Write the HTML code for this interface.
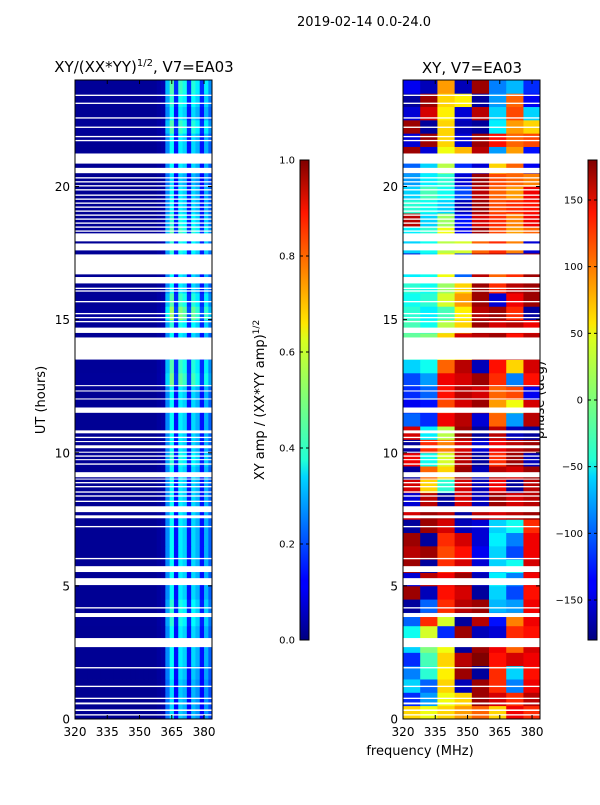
<!DOCTYPE html>
<html><head><meta charset="utf-8"><style>
body{margin:0;background:#fff;width:600px;height:800px;overflow:hidden;font-family:"Liberation Sans","DejaVu Sans",sans-serif}
svg text{font-family:"DejaVu Sans","Liberation Sans",sans-serif;fill:#000}
</style></head><body>
<svg id="fig" width="600" height="800" xmlns="http://www.w3.org/2000/svg">
<defs><linearGradient id="jet" x1="0" y1="1" x2="0" y2="0">
<stop offset="0" stop-color="#000080"/><stop offset="0.11" stop-color="#0000ff"/><stop offset="0.125" stop-color="#0000ff"/>
<stop offset="0.34" stop-color="#00d5ff"/><stop offset="0.375" stop-color="#22ffd5"/><stop offset="0.5" stop-color="#7dff7a"/>
<stop offset="0.625" stop-color="#d8ff1f"/><stop offset="0.66" stop-color="#ffe600"/><stop offset="0.89" stop-color="#ff1600"/><stop offset="1" stop-color="#800000"/>
</linearGradient></defs>
<text x="364" y="26" font-size="13" text-anchor="middle">2019-02-14 0.0-24.0</text>
<text x="144" y="72" font-size="15" text-anchor="middle">XY/(XX*YY)<tspan font-size="10" dy="-6">1/2</tspan><tspan dy="6">, V7=EA03</tspan></text>
<text x="472" y="73" font-size="15" text-anchor="middle">XY, V7=EA03</text>
<text transform="translate(45,400) rotate(-90)" font-size="13" text-anchor="middle">UT (hours)</text>
<text x="420" y="755" font-size="13" text-anchor="middle">frequency (MHz)</text>
<text transform="translate(264,400) rotate(-90)" font-size="13" text-anchor="middle">XY amp / (XX*YY amp)<tspan font-size="9" dy="-5">1/2</tspan></text>
<text transform="translate(544,400) rotate(-90)" font-size="13" text-anchor="middle">phase (deg)</text>
<g id="g1"></g><g id="g2"></g>
</svg>
<script>
const freqBinsAmp=[320,322,324,326,328,330,332,334,336,338,340,342,344,346,348,350,352,354,356,358,360,362,364,366,368,370,372,374,376,378,380,382];
const ampProfile=[0.02,0.02,0.02,0.02,0.02,0.02,0.02,0.02,0.02,0.02,0.02,0.02,0.02,0.02,0.02,0.02,0.02,0.02,0.02,0.03,0.04,0.26,0.38,0.14,0.36,0.33,0.14,0.34,0.3,0.14,0.3,0.22];
const ampRowScale=[0.9,0.9,0.9,0.95,1,1,1,1.1,1.1,1,1,1,1,1,1,1,1,1,1,1.1,1,1,1,1,1,1.3,1.2,1,1,1.1,1.4,1.2,1,1,1,1.1,1.2,1.1,1,1,0.9,1,1,1,1.2,1,1.1,1.2];
const freqBinsPhase=[320,328,336,344,352,360,368,376];
const phaseRows=[
[60,40,60,80,100,60,140,120],[-120,-80,40,60,170,150,120,160],[-60,-100,60,-160,170,120,-90,140],[-90,-30,50,170,-170,120,-60,130],
[-120,-20,60,160,180,130,150,140],[-60,0,40,-170,170,140,100,150],[-40,30,-120,170,-160,-150,120,130],[-100,120,30,-170,160,-130,90,140],
[-170,-100,120,160,170,-70,-80,140],[170,-160,130,150,-170,-60,-110,130],[-150,160,140,170,-160,-50,-90,140],[170,-170,120,150,-150,-60,-40,150],
[160,170,110,130,-140,-60,-110,140],[170,-170,120,150,-150,-50,-90,140],[-170,170,150,-160,-150,-60,-40,120],[150,170,160,-170,160,150,160,170],
[-150,160,-170,150,-160,170,150,160],[150,60,-30,150,-160,140,-170,160],[-170,100,60,170,-160,160,150,170],[140,-40,30,160,-170,120,170,-160],
[-170,120,90,150,-150,140,160,170],[150,-50,20,170,-170,160,-160,-170],[-100,-120,140,160,-150,100,-80,160],[-140,-130,110,150,170,80,40,150],
[-120,-100,130,160,150,100,110,-140],[-110,-80,140,150,170,120,-90,130],[-60,-40,100,160,-160,130,60,150],[-30,-40,40,60,170,150,160,170],
[-10,0,60,150,160,170,130,160],[-20,-40,20,60,170,150,160,140],[-30,-50,-20,50,160,170,120,-170],[-40,-30,30,80,170,-150,140,170],
[-30,-40,10,60,170,120,160,170],[-50,-40,40,-100,160,100,120,170],[-150,-60,50,-120,170,170,-170,170],[-60,-40,20,30,100,120,90,-150],
[-50,-30,40,-140,170,110,80,100],[160,-60,10,-130,150,120,90,140],[-30,-40,-60,-160,170,110,120,130],[-60,-20,-40,-110,160,100,80,140],
[-80,-50,-30,-150,170,110,100,90],[-100,-60,20,-120,-150,60,100,-140],[170,-150,40,70,160,-80,80,-130],[-150,170,60,-150,170,130,100,110],
[170,-170,60,-160,-170,-50,80,60],[-150,150,50,-150,160,-60,110,-60],[-170,170,60,50,-170,-80,100,-140],[-140,-160,80,-160,170,-90,-70,-120]];
const flagged=[[0.13,0.18],[0.3,0.36],[0.55,0.62],[0.75,0.8],[1.2,1.25],[1.9,1.95],[2.7,3.04],[3.83,3.98],[4.15,4.2],[5.03,5.29],[5.52,5.74],[6.0,6.05],[7.2,7.25],[7.54,7.65],[7.77,7.99],[8.15,8.2],[8.35,8.4],[8.5,8.55],[8.7,8.75],[8.85,8.9],[9.0,9.03],[9.08,9.27],[9.55,9.6],[9.72,9.76],[9.85,9.9],[10.0,10.04],[10.17,10.28],[10.4,10.44],[10.55,10.6],[10.73,10.84],[11.5,11.7],[12.0,12.04],[12.3,12.34],[12.5,12.54],[13.5,14.33],[14.5,14.7],[14.9,14.95],[15.05,15.1],[15.2,15.25],[15.65,15.7],[16.05,16.1],[16.15,16.2],[16.36,16.6],[16.7,17.45],[17.6,17.86],[17.94,18.24],[18.3,18.35],[18.45,18.5],[18.6,18.65],[18.75,18.8],[18.9,18.95],[19.05,19.1],[19.2,19.25],[19.35,19.4],[19.5,19.55],[19.65,19.7],[19.85,19.9],[20.0,20.05],[20.15,20.2],[20.3,20.35],[20.5,20.7],[20.86,21.24],[21.7,21.75],[21.85,21.9],[22.2,22.25],[22.55,22.6],[23.1,23.15],[23.4,23.45]];
const xTicks=[320,335,350,365,380];
const yTicks=[0,5,10,15,20];
const ampCbTicks=[0.0,0.2,0.4,0.6,0.8,1.0];
const phaseCbTicks=[-150,-100,-50,0,50,100,150];

const NS="http://www.w3.org/2000/svg";
const FMIN=320,FMAX=383.7,TMIN=0,TMAX=24,ROWH=0.5;
const yScale=t=>719-(t-TMIN)/(TMAX-TMIN)*639;
function mk(tag,at,parent){const e=document.createElementNS(NS,tag);for(const k in at)e.setAttribute(k,at[k]);parent.appendChild(e);return e;}
const cl=v=>Math.max(0,Math.min(1,v));
function jet(t){t=cl(t);const r=cl(1.5-Math.abs(4*t-3)),g=cl(1.5-Math.abs(4*t-2)),b=cl(1.5-Math.abs(4*t-1));return `rgb(${Math.round(r*255)},${Math.round(g*255)},${Math.round(b*255)})`;}

function panel(g,x0,x1,kind){
  const xs=f=>x0+(f-FMIN)/(FMAX-FMIN)*(x1-x0);
  const bins=kind==='amp'?freqBinsAmp:freqBinsPhase;
  for(let r=0;r<phaseRows.length;r++){
    const ya=yScale(r*ROWH),yb=yScale((r+1)*ROWH);
    for(let c=0;c<bins.length;c++){
      const fa=bins[c],fb=c+1<bins.length?bins[c+1]:FMAX;
      const v=kind==='amp'?cl(ampProfile[c]*ampRowScale[r]):(phaseRows[r][c]+180)/360;
      const rc=mk('rect',{x:xs(fa),y:yb,width:xs(fb)-xs(fa)+0.4,height:ya-yb+0.4,fill:jet(v)},g);
      
      
    }
  }
  for(const [a,b] of flagged){
    const fr=mk('rect',{x:x0,y:yScale(b),width:x1-x0,height:Math.max(1,yScale(a)-yScale(b)),fill:'#fff'},g);
    
    
  }
  const fr=mk('rect',{x:x0,y:80,width:x1-x0,height:639,fill:'none',stroke:'#000','stroke-width':1},g);
  
  
  for(const t of yTicks){const y=yScale(t);
    mk('line',{x1:x0,x2:x0+4,y1:y,y2:y,stroke:'#000'},g);mk('line',{x1:x1-4,x2:x1,y1:y,y2:y,stroke:'#000'},g);
    const tx=mk('text',{x:x0-5,y:y+4.5,'font-size':12,'text-anchor':'end'},g);tx.textContent=t;
    
    }
  for(const f of xTicks){const x=xs(f);
    mk('line',{x1:x,x2:x,y1:719,y2:715,stroke:'#000'},g);mk('line',{x1:x,x2:x,y1:80,y2:84,stroke:'#000'},g);
    const tx=mk('text',{x:x,y:736,'font-size':12,'text-anchor':'middle'},g);tx.textContent=f;
    
    }
}
function colorbar(g,x,ticks,lo,hi,fmt,name){
  const r=mk('rect',{x:x,y:160,width:9,height:480,fill:'url(#jet)',stroke:'#000','stroke-width':1},g);
  
  
  for(const t of ticks){const y=640-(t-lo)/(hi-lo)*480;
    mk('line',{x1:x,x2:x+3,y1:y,y2:y,stroke:'#000'},g);mk('line',{x1:x+6,x2:x+9,y1:y,y2:y,stroke:'#000'},g);
    const tx=mk('text',{x:x-5,y:y+3.5,'font-size':10,'text-anchor':'end'},g);tx.textContent=fmt(t);
    
    }
}
const g1=document.getElementById('g1'),g2=document.getElementById('g2');
panel(g1,75,212,'amp');panel(g2,403,540,'phase');
colorbar(g1,300,ampCbTicks,0,1,t=>t.toFixed(1),'amp-colorbar');
colorbar(g2,588,phaseCbTicks,-180,180,t=>t<0?'\u2212'+(-t):''+t,'phase-colorbar');
</script>
</body></html>
